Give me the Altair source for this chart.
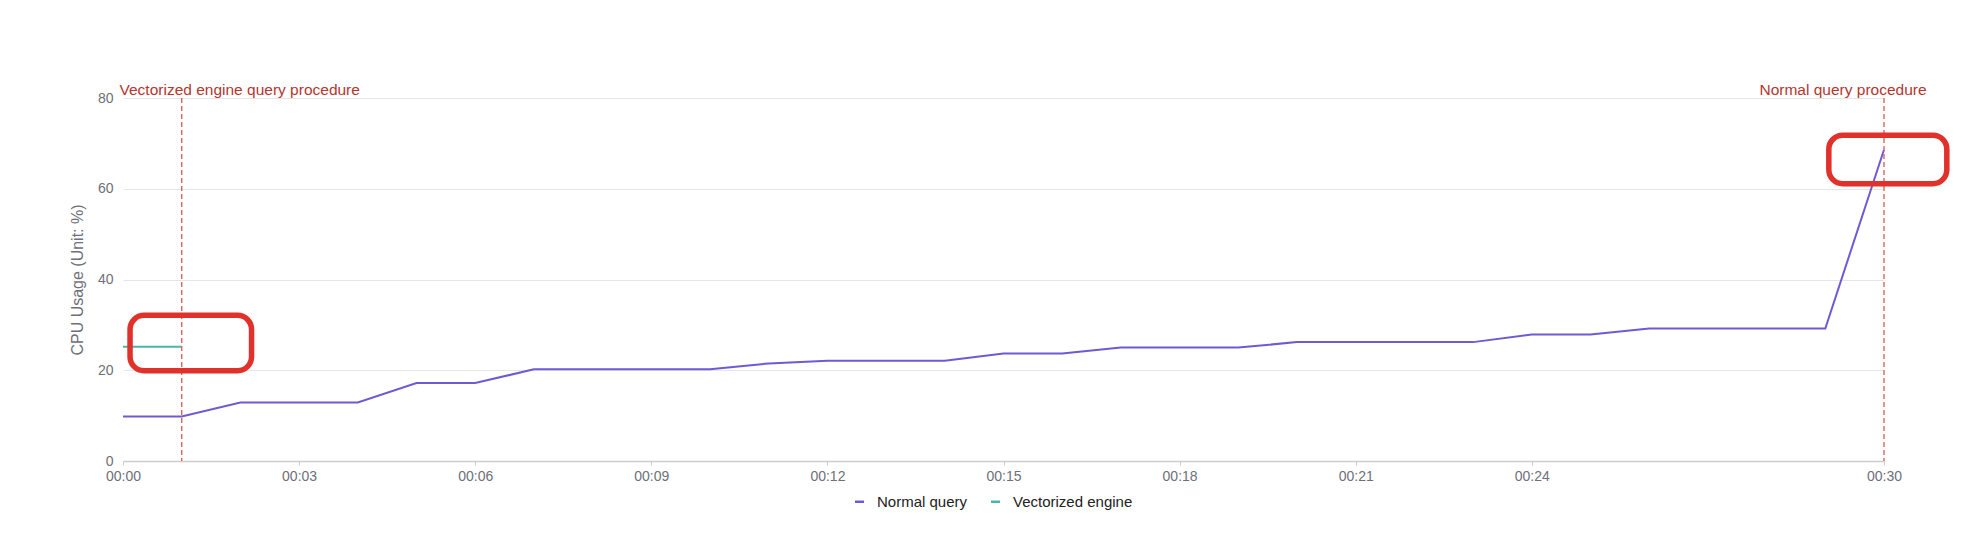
import altair as alt
import pandas as pd

# ---- data ----
minutes = list(range(31))
normal_query = [9.8, 9.8, 12.9, 12.9, 12.9, 17.2, 17.2, 20.2, 20.2, 20.2, 20.2,
                21.5, 22.1, 22.1, 22.1, 23.7, 23.7, 25.0, 25.0, 25.0, 26.2,
                26.2, 26.2, 26.2, 27.9, 27.9, 29.2, 29.2, 29.2, 29.2, 68.6]
vec_minutes = [0, 1]
vectorized_engine = [25.2, 25.2]

series_names = ["Normal query", "Vectorized engine"]
series_colors = ["#6c5bd4", "#48b7ab"]

rule_minutes = [1, 30]
rule_labels = ["Vectorized engine query procedure", "Normal query procedure"]

# highlight boxes (data coordinates)
box_x1 = [0.12, 29.06]
box_x2 = [2.19, 31.07]
box_y1 = [19.9, 61.1]
box_y2 = [32.1, 71.8]

x_ticks = [0, 3, 6, 9, 12, 15, 18, 21, 24, 30]
y_ticks = [0, 20, 40, 60, 80]

FONT = "Liberation Sans"
LABEL_GREY = "#6e7079"
RED_TEXT = "#b3362f"
RED_DASH = "#d8665e"

df = pd.concat([
    pd.DataFrame({"minute": minutes, "cpu": normal_query, "series": series_names[0]}),
    pd.DataFrame({"minute": vec_minutes, "cpu": vectorized_engine, "series": series_names[1]}),
])
rules_df = pd.DataFrame({"minute": rule_minutes, "label": rule_labels, "top": [80, 80], "bottom": [0, 0]})
boxes_df = pd.DataFrame({"x1": box_x1, "x2": box_x2, "y1": box_y1, "y2": box_y2})

xscale = alt.Scale(domain=[0, 30], nice=False, zero=False)
yscale = alt.Scale(domain=[0, 80], nice=False)

lines = alt.Chart(df).mark_line(strokeWidth=2).encode(
    x=alt.X("minute:Q", scale=xscale, title=None,
            axis=alt.Axis(values=x_ticks, grid=False,
                          labelExpr="'00:' + (datum.value < 10 ? '0' : '') + datum.value",
                          labelFont=FONT, labelFontSize=14, labelColor=LABEL_GREY,
                          labelPadding=4, tickSize=4, tickColor="#cccccc",
                          domainColor="#cccccc", domainWidth=1.5, labelFlush=False)),
    y=alt.Y("cpu:Q", scale=yscale, title="CPU Usage (Unit: %)",
            axis=alt.Axis(values=y_ticks, grid=True, gridColor="#e6e6e6", gridWidth=1,
                          domain=False, ticks=False,
                          labelFont=FONT, labelFontSize=14, labelColor=LABEL_GREY,
                          labelPadding=10,
                          titleFont=FONT, titleFontSize=16, titleFontWeight="normal",
                          titleColor=LABEL_GREY, titleX=-46, titleY=181.5,
                          titleAngle=270, titleBaseline="middle", titleAlign="center")),
    color=alt.Color("series:N",
                    scale=alt.Scale(domain=series_names, range=series_colors),
                    legend=alt.Legend(title=None, orient="none", direction="horizontal",
                                      legendX=729, legendY=396, padding=0,
                                      symbolType="stroke", symbolSize=81,
                                      symbolStrokeWidth=2.5, labelOffset=10,
                                      columnPadding=18,
                                      labelFont=FONT, labelFontSize=15,
                                      labelColor="#222222")),
    detail="series:N",
)

rules = alt.Chart(rules_df).mark_rule(color=RED_DASH, strokeWidth=1.4, strokeDash=[5, 3]).encode(
    x=alt.X("minute:Q", scale=xscale),
    y=alt.Y("top:Q", scale=yscale),
    y2="bottom:Q",
)

text1 = alt.Chart(rules_df.iloc[[0]]).mark_text(
    align="center", baseline="alphabetic", dx=58, dy=-3,
    font=FONT, fontSize=15.5, color=RED_TEXT).encode(
    x=alt.X("minute:Q", scale=xscale),
    y=alt.Y("top:Q", scale=yscale),
    text="label:N",
)
text2 = alt.Chart(rules_df.iloc[[1]]).mark_text(
    align="center", baseline="alphabetic", dx=-41, dy=-3,
    font=FONT, fontSize=15.5, color=RED_TEXT).encode(
    x=alt.X("minute:Q", scale=xscale),
    y=alt.Y("top:Q", scale=yscale),
    text="label:N",
)

boxes = alt.Chart(boxes_df).mark_rect(
    fill=None, fillOpacity=0, stroke="#e0312a", strokeWidth=5.5, cornerRadius=14).encode(
    x=alt.X("x1:Q", scale=xscale),
    x2="x2:Q",
    y=alt.Y("y1:Q", scale=yscale),
    y2="y2:Q",
)

chart = alt.layer(lines, rules, text1, text2, boxes).properties(
    width=1761, height=363,
    autosize=alt.AutoSizeParams(type="none"),
    padding={"left": 123, "top": 98, "right": 84, "bottom": 83},
    background="white",
).configure_view(stroke=None)

chart.save("out.html", embed_options={"renderer": "svg", "actions": False})
